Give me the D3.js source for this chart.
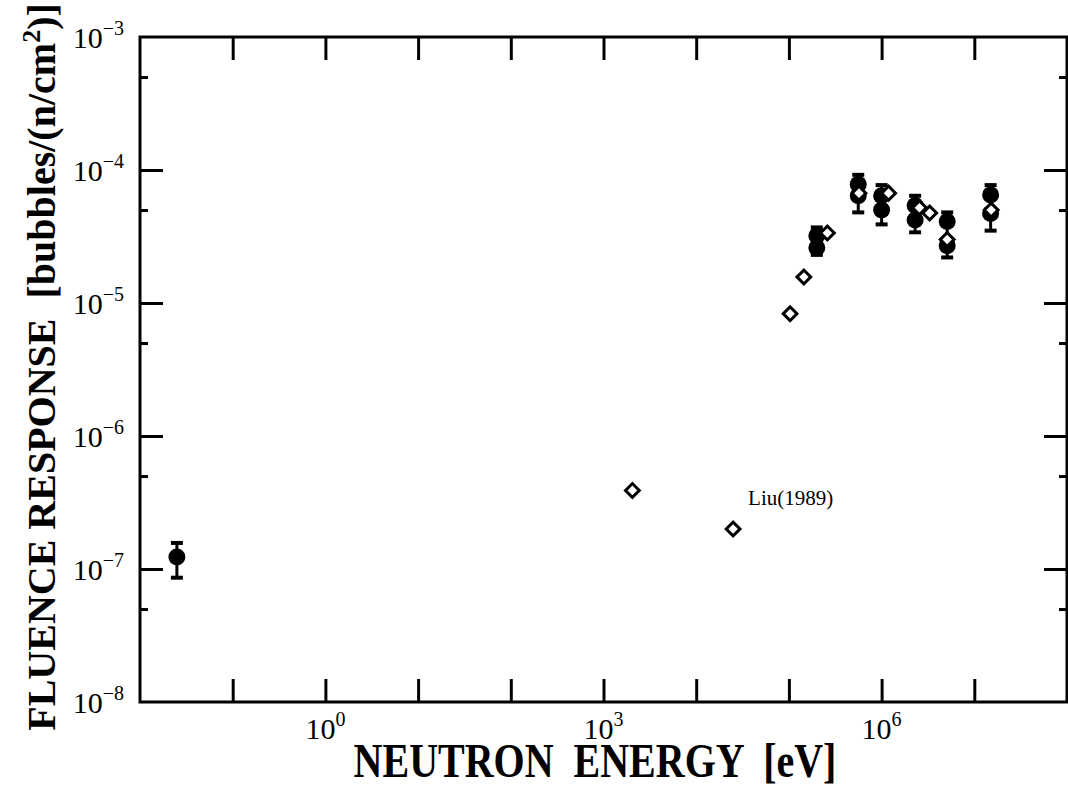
<!DOCTYPE html>
<html lang="en">
<head>
  <meta charset="UTF-8">
  <title>Fluence Response</title>
  <style>
    body { margin: 0; background: #fff; }
    text { font-family: "Liberation Serif", "Times New Roman", serif; fill: #000; }
  </style>
</head>
<body>
  <script src="https://d3js.org/d3.v7.min.js"></script>
  <div id="chart"></div>
  <script>
    // measured response (filled circles)
    let measEnergy = [0.025, 2.0e5, 2.0e5, 5.6e5, 5.6e5, 1.0e6, 1.0e6, 2.3e6, 2.3e6, 5.1e6, 5.1e6, 1.5e7, 1.5e7];
    let measResp = [1.23e-7, 3.2e-5, 2.6e-5, 7.8e-5, 6.4e-5, 6.4e-5, 5.0e-5, 5.4e-5, 4.2e-5, 4.1e-5, 2.7e-5, 6.5e-5, 4.7e-5];

    // error bars on the measured points
    let errEnergy = [0.025, 2.0e5, 5.6e5, 1.0e6, 2.3e6, 5.1e6, 1.5e7];
    let errLow = [8.6e-8, 2.3e-5, 4.8e-5, 3.9e-5, 3.4e-5, 2.2e-5, 3.5e-5];
    let errHigh = [1.57e-7, 3.7e-5, 9.2e-5, 7.7e-5, 6.4e-5, 4.8e-5, 7.7e-5];

    // Liu (1989), open diamonds
    let liuEnergy = [2.05e3, 2.5e4, 1.03e5, 1.45e5, 2.6e5, 5.7e5, 1.19e6, 2.56e6, 3.3e6, 5.1e6, 1.52e7];
    let liuResp = [3.9e-7, 2.0e-7, 8.3e-6, 1.57e-5, 3.36e-5, 6.7e-5, 6.7e-5, 5.2e-5, 4.75e-5, 3.0e-5, 5.0e-5];

    // axes
    let xMajor = [1e-1, 1e0, 1e1, 1e2, 1e3, 1e4, 1e5, 1e6, 1e7];
    let xLabels = [[1e0, "0"], [1e3, "3"], [1e6, "6"]];
    let yMajor = [1e-4, 1e-5, 1e-6, 1e-7];
    let yMinor = [5e-4, 5e-5, 5e-6, 5e-7, 5e-8];
    let yLabels = [[1e-3, "\u22123"], [1e-4, "\u22124"], [1e-5, "\u22125"], [1e-6, "\u22126"], [1e-7, "\u22127"], [1e-8, "\u22128"]];

    let W = 1068, H = 787;
    let margin = { left: 140, right: 1067, top: 37, bottom: 702 };

    let svg = d3.select("#chart")
      .append("svg")
        .attr("width", W)
        .attr("height", H);

    let x = d3.scaleLog().domain([1e-2, 1e8]).range([margin.left, margin.right]);
    let y = d3.scaleLog().domain([1e-8, 1e-3]).range([margin.bottom, margin.top]);

    function styleAxis(g) {
      g.select(".domain").remove();
      g.selectAll(".tick line").attr("stroke", "#000").attr("stroke-width", 3);
      g.selectAll(".tick text").remove();
    }

    // tick marks, all pointing inward
    svg.append("g").attr("transform", "translate(0," + margin.bottom + ")")
      .call(d3.axisBottom(x).tickValues(xMajor).tickSize(-23).tickFormat(""))
      .call(styleAxis);
    svg.append("g").attr("transform", "translate(0," + margin.top + ")")
      .call(d3.axisTop(x).tickValues(xMajor).tickSize(-23).tickFormat(""))
      .call(styleAxis);
    svg.append("g").attr("transform", "translate(" + margin.left + ",0)")
      .call(d3.axisLeft(y).tickValues(yMajor).tickSize(-23).tickFormat(""))
      .call(styleAxis);
    svg.append("g").attr("transform", "translate(" + margin.left + ",0)")
      .call(d3.axisLeft(y).tickValues(yMinor).tickSize(-8).tickFormat(""))
      .call(styleAxis);
    svg.append("g").attr("transform", "translate(" + margin.right + ",0)")
      .call(d3.axisRight(y).tickValues(yMajor).tickSize(-23).tickFormat(""))
      .call(styleAxis);
    svg.append("g").attr("transform", "translate(" + margin.right + ",0)")
      .call(d3.axisRight(y).tickValues(yMinor).tickSize(-8).tickFormat(""))
      .call(styleAxis);

    // frame
    svg.append("rect")
      .attr("x", margin.left).attr("y", margin.top)
      .attr("width", margin.right - margin.left).attr("height", margin.bottom - margin.top)
      .attr("fill", "none")
      .attr("stroke", "#000")
      .attr("stroke-width", 3);

    // tick labels
    xLabels.forEach(d => {
      let t = svg.append("text")
        .attr("x", x(d[0]))
        .attr("y", margin.bottom + 37)
        .attr("text-anchor", "middle")
        .style("font-size", "30px")
        .text("10");
      t.append("tspan").attr("dy", -13).style("font-size", "20px").text(d[1]);
    });

    yLabels.forEach(d => {
      let t = svg.append("text")
        .attr("x", 124)
        .attr("y", y(d[0]) + 11)
        .attr("text-anchor", "end")
        .style("font-size", "30px")
        .text("10");
      t.append("tspan").attr("dy", -13).style("font-size", "20px").text(d[1]);
    });

    // axis titles (the scan is a little stretched vertically)
    svg.append("text")
      .attr("transform", "translate(595,777) scale(1,1.2)")
      .attr("text-anchor", "middle")
      .style("font-size", "40px")
      .style("font-weight", "bold")
      .style("white-space", "pre")
      .text("NEUTRON  ENERGY  [eV]");

    let yt = svg.append("text")
      .attr("transform", "translate(55,367) rotate(-90)")
      .attr("text-anchor", "middle")
      .style("font-size", "40px")
      .style("font-weight", "bold")
      .style("white-space", "pre")
      .text("FLUENCE RESPONSE  [bubbles/(n/cm");
    yt.append("tspan").attr("dy", -15).style("font-size", "26px").text("2");
    yt.append("tspan").attr("dy", 15).text(")]");

    // error bars
    errEnergy.forEach((e, i) => {
      let cx = x(e);
      svg.append("line")
        .attr("x1", cx).attr("x2", cx)
        .attr("y1", y(errLow[i])).attr("y2", y(errHigh[i]))
        .attr("stroke", "#000").attr("stroke-width", 3);
      [errLow[i], errHigh[i]].forEach(v => {
        svg.append("line")
          .attr("x1", cx - 6).attr("x2", cx + 6)
          .attr("y1", y(v)).attr("y2", y(v))
          .attr("stroke", "#000").attr("stroke-width", 4);
      });
    });

    // filled circles
    svg.append("g").selectAll("circle")
      .data(measEnergy)
      .enter().append("circle")
        .attr("cx", d => x(d))
        .attr("cy", (d, i) => y(measResp[i]))
        .attr("r", 8.5)
        .attr("fill", "#000");

    // open diamonds
    let diamond = d3.symbol().type(d3.symbolSquare).size(95);
    svg.append("g").selectAll("path")
      .data(liuEnergy)
      .enter().append("path")
        .attr("d", diamond)
        .attr("transform", (d, i) => "translate(" + x(d) + "," + y(liuResp[i]) + ") rotate(45)")
        .attr("fill", "#fff")
        .attr("stroke", "#000")
        .attr("stroke-width", 3);

    svg.append("text")
      .attr("x", x(liuEnergy[1]) + 15)
      .attr("y", y(liuResp[1]) - 24)
      .style("font-size", "21px")
      .text("Liu(1989)");
  </script>
</body>
</html>
